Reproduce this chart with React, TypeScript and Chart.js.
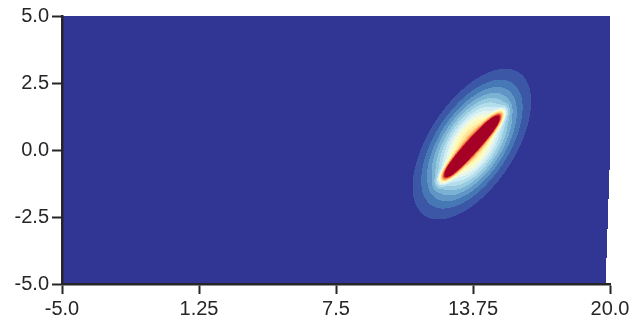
import React, { useEffect, useRef } from "react";
import { Chart, registerables } from "chart.js";

Chart.register(...registerables);

// ---- axis ticks ----
const xTicks = [-5, 1.25, 7.5, 13.75, 20];
const xTickLabels = ["-5.0", "1.25", "7.5", "13.75", "20.0"];
const yTicks = [-5, -2.5, 0, 2.5, 5];
const yTickLabels = ["-5.0", "-2.5", "0.0", "2.5", "5.0"];

// ---- field components: narrow core streak + broad halo ----
const peakX = [13.7, 13.7];
const peakY = [0.13, 0.22];
const peakAmp = [2.0, 0.66];
const peakSigmaMajor = [1.33, 1.52];
const peakSigmaMinor = [0.14, 0.8];
const peakPowerMajor = [4, 2];
const peakAngleDeg = [42, 47];

// ---- contour levels ----
const contourLevels = [0, 0.05, 0.1, 0.15, 0.2, 0.25, 0.3, 0.35, 0.4, 0.45, 0.5, 0.55, 0.6, 0.65, 0.7, 0.75, 0.8, 0.85, 0.9, 0.95, 1.0];

// ---- colormap anchors (RdYlBu reversed) ----
const cmapColors = ["#313695", "#4575b4", "#74add1", "#abd9e9", "#e0f3f8", "#ffffbf", "#fee090", "#fdae61", "#f46d43", "#d73027", "#a50026"];

// ---- extent of the gridded data (right edge) ----
const gridEdgeY = [5, -0.2, -5];
const gridEdgeX = [20, 20, 19.8];

function hexToRgb(h: string) {
  const n = parseInt(h.slice(1), 16);
  return [(n >> 16) & 255, (n >> 8) & 255, n & 255];
}

function cmap(t: number) {
  const anchors = cmapColors.map(hexToRgb);
  const p = Math.max(0, Math.min(1, t)) * (anchors.length - 1);
  const i = Math.min(anchors.length - 2, Math.floor(p));
  const f = p - i;
  return [0, 1, 2].map((k) => Math.round(anchors[i][k] + (anchors[i + 1][k] - anchors[i][k]) * f));
}

function field(x: number, y: number) {
  let z = 0;
  for (let i = 0; i < peakX.length; i++) {
    const a = (peakAngleDeg[i] * Math.PI) / 180;
    const dx = x - peakX[i];
    const dy = y - peakY[i];
    const u = dx * Math.cos(a) + dy * Math.sin(a);
    const v = -dx * Math.sin(a) + dy * Math.cos(a);
    z += peakAmp[i] * Math.exp(-0.5 * (Math.abs(u / peakSigmaMajor[i]) ** peakPowerMajor[i] + (v / peakSigmaMinor[i]) ** 2));
  }
  return z;
}

function edgeXAt(y: number) {
  for (let i = 0; i < gridEdgeY.length - 1; i++) {
    const y0 = gridEdgeY[i], y1 = gridEdgeY[i + 1];
    if (y <= y0 && y >= y1) {
      const f = (y - y0) / (y1 - y0);
      return gridEdgeX[i] + (gridEdgeX[i + 1] - gridEdgeX[i]) * f;
    }
  }
  return gridEdgeX[gridEdgeX.length - 1];
}

const heatmapPlugin = {
  id: "heatmap",
  beforeDraw(chart: any) {
    const { ctx, chartArea, scales } = chart;
    const xs = scales.x, ys = scales.y;
    const left = Math.round(chartArea.left), top = Math.round(chartArea.top);
    const w = Math.round(chartArea.right) - left;
    const h = Math.round(chartArea.bottom) - top;
    const nBands = contourLevels.length - 1;
    const bandColors = [];
    for (let k = 0; k < nBands; k++) bandColors.push(cmap(k / (nBands - 1)));
    const off = document.createElement("canvas");
    off.width = w;
    off.height = h;
    const octx = off.getContext("2d")!;
    const img = octx.createImageData(w, h);
    for (let py = 0; py < h; py++) {
      const y = ys.getValueForPixel(top + py + 0.5);
      const ex = edgeXAt(y);
      for (let px = 0; px < w; px++) {
        const x = xs.getValueForPixel(left + px + 0.5);
        const idx = (py * w + px) * 4;
        if (x > ex) {
          img.data[idx + 3] = 0;
          continue;
        }
        const z = field(x, y);
        let band = 0;
        for (let k = 1; k < contourLevels.length; k++) {
          if (z >= contourLevels[k]) band = k;
        }
        if (band > nBands - 1) band = nBands - 1;
        const c = bandColors[band];
        img.data[idx] = c[0];
        img.data[idx + 1] = c[1];
        img.data[idx + 2] = c[2];
        img.data[idx + 3] = 255;
      }
    }
    octx.putImageData(img, 0, 0);
    ctx.save();
    ctx.drawImage(off, left, top);
    ctx.restore();
  },
};

const axisColor = "#262626";
const tickFont = { family: "'Liberation Sans', Arial, sans-serif", size: 20 };

export default function App() {
  const ref = useRef<HTMLCanvasElement>(null);
  useEffect(() => {
    const chart = new Chart(ref.current!, {
      type: "scatter",
      data: { datasets: [{ data: [], pointRadius: 0 }] },
      options: {
        animation: false,
        responsive: false,
        events: [],
        layout: { padding: { top: 16, right: 28, left: 0, bottom: 0 } },
        plugins: { legend: { display: false }, tooltip: { enabled: false } },
        scales: {
          x: {
            type: "linear",
            min: -5,
            max: 20,
            afterFit: (s: any) => { s.height = 43; },
            afterBuildTicks: (s: any) => { s.ticks = xTicks.map((v) => ({ value: v })); },
            grid: { display: true, drawOnChartArea: false, drawTicks: true, tickLength: 10, tickWidth: 2, tickColor: axisColor },
            border: { display: true, color: axisColor, width: 2.5 },
            ticks: {
              color: axisColor,
              font: tickFont,
              padding: 3,
              maxRotation: 0,
              autoSkip: false,
              callback: (_v: any, i: number) => xTickLabels[i],
            },
          },
          y: {
            type: "linear",
            min: -5,
            max: 5,
            afterFit: (s: any) => { s.width = 62; },
            afterBuildTicks: (s: any) => { s.ticks = yTicks.map((v) => ({ value: v })); },
            grid: { display: true, drawOnChartArea: false, drawTicks: true, tickLength: 10, tickWidth: 2, tickColor: axisColor },
            border: { display: true, color: axisColor, width: 2.5 },
            ticks: {
              color: axisColor,
              font: tickFont,
              padding: 3,
              autoSkip: false,
              callback: (_v: any, i: number) => yTickLabels[i],
            },
          },
        },
      },
      plugins: [heatmapPlugin],
    } as any);
    return () => chart.destroy();
  }, []);
  return (
    <div style={{ position: "fixed", left: 0, top: 0, width: 638, height: 327, background: "#fff" }}>
      <canvas ref={ref} width={638} height={327} style={{ display: "block" }} />
    </div>
  );
}
